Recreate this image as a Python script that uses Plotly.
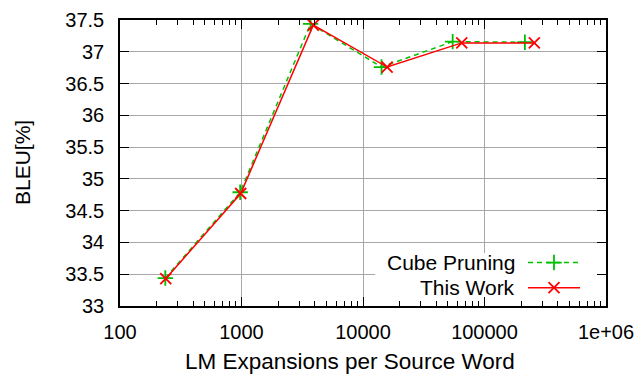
import plotly.graph_objects as go

# ---- data ----
series_names = ["Cube Pruning", "This Work"]
cube_x = [236, 975, 3700, 14200, 54700, 215000]
cube_y = [33.44, 34.79, 37.44, 36.76, 37.16, 37.15]
work_x = [238, 985, 3900, 15800, 65000, 257000]
work_y = [33.43, 34.77, 37.42, 36.76, 37.14, 37.14]

x_tickvals = [100, 1000, 10000, 100000, 1000000]
x_ticktext = ["100", "1000", "10000", "100000", "1e+06"]
y_tickvals = [33, 33.5, 34, 34.5, 35, 35.5, 36, 36.5, 37, 37.5]
y_ticktext = ["33", "33.5", "34", "34.5", "35", "35.5", "36", "36.5", "37", "37.5"]
x_title = "LM Expansions per Source Word"
y_title = "BLEU[%]"

# ---- styles ----
FONT = "Liberation Sans, Arial, sans-serif"
GREEN = "#00c000"
RED = "#ff0000"
GRID = "#a8a8a8"

W, H = 641, 380
L, R, T, B = 120, 35, 20, 74

minor_vals = [k * 10 ** e for e in range(2, 6) for k in range(2, 10)]

fig = go.Figure()

fig.add_trace(go.Scatter(
    x=cube_x, y=cube_y, mode="lines+markers", name=series_names[0],
    line=dict(color=GREEN, width=1.5, dash="5px,4px"),
    marker=dict(symbol="cross-thin-open", size=11, color=GREEN,
                line=dict(color=GREEN, width=1.8)),
    showlegend=False,
))
fig.add_trace(go.Scatter(
    x=work_x, y=work_y, mode="lines+markers", name=series_names[1],
    line=dict(color=RED, width=1.5),
    marker=dict(symbol="x-thin-open", size=11, color=RED,
                line=dict(color=RED, width=1.8)),
    showlegend=False,
))

# ---- custom legend (gnuplot style: text, then sample on the right) ----
# white box behind legend covering grid lines (fractions of plot area)
box_x = [0.525, 0.997, 0.997, 0.525, 0.525]
box_y = [0.014, 0.014, 0.185, 0.185, 0.014]
fig.add_trace(go.Scatter(
    x=box_x, y=box_y, mode="lines", fill="toself", fillcolor="white",
    line=dict(width=0, color="white"), xaxis="x2", yaxis="y2",
    showlegend=False, hoverinfo="skip",
))

leg_rows_y = [0.152, 0.064]
leg_line_x = [0.8395, 0.9465]
leg_mark_x = 0.893
leg_text_x = 0.816
styles = [
    dict(color=GREEN, dash="5px,4px", symbol="cross-thin-open"),
    dict(color=RED, dash="solid", symbol="x-thin-open"),
]
for name, yy, st in zip(series_names, leg_rows_y, styles):
    fig.add_trace(go.Scatter(
        x=leg_line_x, y=[yy, yy], mode="lines", xaxis="x2", yaxis="y2",
        line=dict(color=st["color"], width=1.5, dash=st["dash"]),
        showlegend=False, hoverinfo="skip",
    ))
    fig.add_trace(go.Scatter(
        x=[leg_mark_x], y=[yy], mode="markers", xaxis="x2", yaxis="y2",
        marker=dict(symbol=st["symbol"], size=11, color=st["color"],
                    line=dict(color=st["color"], width=1.8)),
        showlegend=False, hoverinfo="skip",
    ))
    fig.add_annotation(
        x=leg_text_x, y=yy, xref="x2", yref="y2", text=name, showarrow=False,
        xanchor="right", yanchor="middle",
        font=dict(family=FONT, size=21, color="black"),
    )

# axis titles
fig.add_annotation(x=0.473, y=0, xref="paper", yref="paper", yshift=-55,
                   text=x_title, showarrow=False, xanchor="center", yanchor="middle",
                   font=dict(family=FONT, size=22.5, color="black"))
fig.add_annotation(x=0, y=0.5, xref="paper", yref="paper", xshift=-98,
                   text=y_title, showarrow=False, textangle=-90,
                   xanchor="center", yanchor="middle",
                   font=dict(family=FONT, size=21, color="black"))

common_x = dict(
    type="log", range=[2, 6], automargin=False,
    tickmode="array", tickvals=x_tickvals,
    ticks="inside", ticklen=9, tickwidth=1, tickcolor="black",
    zeroline=False,
    minor=dict(tickmode="array", tickvals=minor_vals, ticks="inside",
               ticklen=5, tickcolor="black", tickwidth=1, showgrid=False),
)

fig.update_layout(
    width=W, height=H,
    margin=dict(l=L, r=R, t=T, b=B, pad=0, autoexpand=False),
    paper_bgcolor="white", plot_bgcolor="white",
    font=dict(family=FONT, size=20, color="black"),
    xaxis=dict(
        **common_x,
        ticktext=x_ticktext,
        showgrid=True, gridcolor=GRID, gridwidth=1,
        showline=True, linecolor="black", linewidth=1.5, mirror=True,
        ticklabelstandoff=7,
        tickfont=dict(family=FONT, size=20, color="black"),
    ),
    xaxis3=dict(
        **common_x,
        overlaying="x", side="top", showticklabels=False,
        showgrid=False, showline=False, matches="x",
    ),
    yaxis=dict(
        range=[33, 37.5], automargin=False,
        tickmode="array", tickvals=y_tickvals, ticktext=y_ticktext,
        ticks="inside", ticklen=9, tickwidth=1, tickcolor="black",
        showgrid=True, gridcolor=GRID, gridwidth=1,
        showline=True, linecolor="black", linewidth=1.5, mirror="ticks",
        zeroline=False, ticklabelstandoff=10,
        tickfont=dict(family=FONT, size=20, color="black"),
    ),
    xaxis2=dict(range=[0, 1], overlaying="x", visible=False, fixedrange=True,
                automargin=False),
    yaxis2=dict(range=[0, 1], overlaying="y", visible=False, fixedrange=True,
                automargin=False),
    showlegend=False,
)

# invisible trace to activate the top mirror axis
fig.add_trace(go.Scatter(x=[cube_x[0]], y=[cube_y[0]], xaxis="x3", yaxis="y",
                         mode="markers", marker=dict(opacity=0), showlegend=False,
                         hoverinfo="skip"))

fig.write_html("out.html")
